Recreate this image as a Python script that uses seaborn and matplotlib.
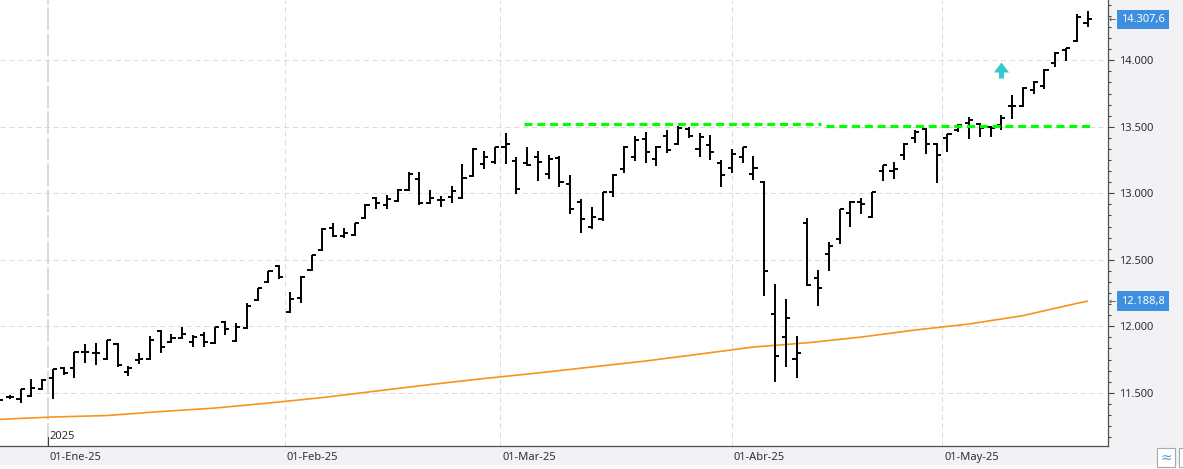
import numpy as np
import pandas as pd
import matplotlib
matplotlib.use("Agg")
import matplotlib.pyplot as plt
import matplotlib.transforms as mtrans
from matplotlib.ticker import MultipleLocator, FuncFormatter
from matplotlib.path import Path
from matplotlib.patches import Rectangle
import seaborn as sns

# trading days (BME calendar)
holidays = ["2024-12-25", "2024-12-26", "2025-01-01", "2025-04-18", "2025-04-21", "2025-05-01"]
dates = pd.bdate_range("2024-12-23", "2025-05-21")
dates = dates[~dates.isin(pd.to_datetime(holidays))]

opens = [11446, 11468, 11453, 11476, 11528,
         11611, 11686, 11686, 11806, 11799, 11754, 11867, 11656, 11746, 11754, 11964,
         11882, 11912, 11882, 11934, 11874, 12032, 11889, 11987, 12198, 12333, 12453,
         12107, 12213, 12423, 12574, 12739, 12679, 12686, 12814, 12964, 12912, 12942,
         13025, 13107, 12927, 12950, 12972, 12964, 13130, 13220, 13235,
         13348, 13243, 13228, 13273, 13145, 13265, 13070, 12934, 12746, 12807, 13010,
         13183, 13273, 13408, 13258, 13431, 13371, 13483, 13333, 13363, 13228,
         13190, 13273, 13145, 13085, 12092, 11919, 11754, 12776, 12363, 12543, 12656,
         12852, 12934, 12822, 13168, 13168, 13288, 13416, 13483, 13371,
         13416, 13476, 13529, 13521, 13498, 13513, 13656, 13656, 13777, 13807, 13980,
         14077, 14145, 14281]
highs = [11461, 11483, 11528, 11603, 11603,
         11679, 11694, 11806, 11867, 11874, 11897, 11874, 11701, 11799, 11927, 11972,
         11942, 11994, 11934, 11957, 11994, 12040, 12025, 12175, 12288, 12416, 12461,
         12258, 12378, 12536, 12739, 12776, 12739, 12776, 12919, 12972, 12987, 13032,
         13160, 13160, 13025, 12980, 13055, 13220, 13341, 13318, 13348,
         13453, 13273, 13348, 13318, 13288, 13280, 13138, 12957, 12897, 13010, 13145,
         13356, 13431, 13461, 13356, 13476, 13506, 13498, 13453, 13438, 13250,
         13333, 13348, 13280, 13090, 12318, 12205, 11927, 12814, 12423, 12634, 12882,
         12942, 12964, 13010, 13213, 13235, 13378, 13476, 13491, 13376,
         13446, 13521, 13574, 13529, 13506, 13589, 13739, 13799, 13844, 13935, 14062,
         14093, 14348, 14371]
lows = [11431, 11453, 11423, 11468, 11521,
        11453, 11633, 11611, 11724, 11709, 11746, 11694, 11626, 11716, 11746, 11799,
        11874, 11904, 11844, 11844, 11867, 11934, 11882, 11979, 12190, 12325, 12355,
        12100, 12175, 12416, 12566, 12671, 12664, 12680, 12807, 12882, 12882, 12934,
        13017, 12912, 12920, 12897, 12927, 12957, 13122, 13183, 13220,
        13220, 12995, 13205, 13092, 13107, 13047, 12844, 12701, 12731, 12792, 12972,
        13153, 13243, 13228, 13205, 13303, 13365, 13416, 13273, 13250, 13047,
        13153, 13228, 13100, 12228, 11581, 11694, 11611, 12303, 12152, 12416, 12619,
        12746, 12844, 12814, 13092, 13107, 13250, 13378, 13295, 13077,
        13310, 13461, 13408, 13423, 13423, 13476, 13559, 13650, 13747, 13784, 13950,
        13995, 14140, 14250]
closes = [11446, 11468, 11528, 11536, 11596,
          11679, 11648, 11806, 11806, 11799, 11897, 11709, 11686, 11754, 11897, 11844,
          11912, 11942, 11919, 11882, 11994, 11979, 11994, 12152, 12288, 12416, 12371,
          12205, 12371, 12536, 12731, 12679, 12701, 12776, 12912, 12927, 12957, 13025,
          13145, 12927, 12964, 12950, 13017, 13115, 13333, 13273, 13348,
          13371, 13032, 13213, 13235, 13258, 13085, 12882, 12807, 12822, 13010, 13138,
          13348, 13401, 13310, 13348, 13325, 13491, 13431, 13423, 13310, 13138,
          13295, 13348, 13190, 12416, 11776, 12062, 11799, 12310, 12288, 12604, 12882,
          12934, 12919, 13010, 13213, 13183, 13371, 13461, 13371, 13288,
          13446, 13513, 13551, 13491, 13491, 13566, 13656, 13792, 13837, 13927, 14055,
          14093, 14326, 14307.6]

# moving average read every 5 sessions
ma_idx = [0, 5, 10, 15, 20, 25, 30, 35, 40, 45, 50, 55, 60, 65, 70, 75, 80, 85, 90, 95, 100, 101]
ma_vals = [11300, 11318, 11329, 11359, 11385, 11423, 11464, 11513, 11562, 11607, 11649,
           11694, 11739, 11791, 11844, 11876, 11919, 11972, 12017, 12080, 12172, 12188.8]

# resistance segments (start, end, level)
resistance = [("2025-03-05", "2025-04-11", 13521), ("2025-04-14", "2025-05-21", 13508)]

signal_date = "2025-05-09"
signal_level = 13912

month_starts = ["2025-01-01", "2025-02-01", "2025-03-01", "2025-04-01", "2025-05-01"]
month_labels = ["01-Ene-25", "01-Feb-25", "01-Mar-25", "01-Abr-25", "01-May-25"]


def pos(d):
    d = pd.Timestamp(d)
    i = dates.searchsorted(d)
    if i < len(dates) and dates[i] == d:
        return float(i)
    return i - 0.5


def fmt_es(v, dec=0):
    s = f"{v:,.{dec}f}"
    return s.replace(",", "X").replace(".", ",").replace("X", ".")


sns.set_style("white")
plt.rcParams["font.family"] = ["Noto Sans", "DejaVu Sans"]

W, H = 1183, 469
fig = plt.figure(figsize=(W / 100, H / 100), dpi=100, facecolor="#f2f2f4")
ax = fig.add_axes([0, 23 / H, 1108 / W, 446 / H])
ax.set_facecolor("white")

x = np.arange(len(dates))

# grid
for v in range(11500, 14001, 500):
    ax.axhline(v, color="#dcdcdc", lw=0.75, ls=(0, (5, 3.5)), zorder=0)
for m in month_starts:
    p = pos(m)
    if m.endswith("01-01"):
        ax.axvline(p, color="#d2d2d2", lw=1.1, ls=(0, (15, 2)), zorder=0)
    else:
        ax.axvline(p, color="#dcdcdc", lw=0.75, ls=(0, (5, 3.5)), zorder=0)

# moving average
sns.lineplot(x=ma_idx, y=ma_vals, ax=ax, color="#f7941d", lw=1.2, zorder=2)

# OHLC bars
ax.vlines(x, lows, highs, color="black", lw=1.4, zorder=3)
ax.hlines(opens, x - 0.38, x, color="black", lw=1.4, zorder=3)
ax.hlines(closes, x, x + 0.38, color="black", lw=1.4, zorder=3)

# resistance lines
for s, e, lvl in resistance:
    ax.hlines(lvl, pos(s) - 0.3, pos(e) + 0.3, colors="#00ff00", lw=2.3,
              linestyles=(0, (2.5, 1.5)), zorder=4)

# signal arrow
arrow = Path([(0, 1.33), (1, 0), (0.33, 0), (0.33, -0.8), (-0.33, -0.8), (-0.33, 0), (-1, 0), (0, 1.33)],
             [Path.MOVETO] + [Path.LINETO] * 6 + [Path.CLOSEPOLY])
ax.plot([pos(signal_date)], [signal_level], marker=arrow, ms=14.5, color="#35c8cc", mec="none", zorder=5)

ax.set_xlim(0.09, 102.9)
ax.set_ylim(11100, 14453)

# y axis on right
ax.yaxis.tick_right()
ax.yaxis.set_major_locator(MultipleLocator(500))
ax.yaxis.set_minor_locator(MultipleLocator(500 / 6))
ax.yaxis.set_major_formatter(FuncFormatter(lambda v, _: fmt_es(v)))
ax.tick_params(axis="y", which="major", direction="out", length=4.3, width=0.8, color="#404040",
               pad=3.5, labelsize=8, labelcolor="#2e2e3e")
ax.tick_params(axis="y", which="minor", direction="out", length=2.4, width=0.8, color="#404040")

# x axis months
ax.set_xticks([pos(m) for m in month_starts])
ax.set_xticklabels(month_labels, ha="left")
ax.tick_params(axis="x", direction="out", length=6.5, width=0.8, color="#404040",
               pad=-2.5, labelsize=8, labelcolor="#2e2e3e")
off = mtrans.ScaledTranslation(2 / 100, 0, fig.dpi_scale_trans)
for lab in ax.get_xticklabels():
    lab.set_transform(lab.get_transform() + off)

# year marker
ax.axvline(pos(month_starts[0]), ymin=0, ymax=9 / 446, color="#404040", lw=0.8, zorder=5)
ax.text(pos(month_starts[0]), 0.01, "2025", transform=ax.get_xaxis_transform(),
        fontsize=8, color="#2e2e3e", ha="left", va="bottom")
ax.texts[-1].set_transform(ax.get_xaxis_transform() + off)

for side in ["top", "left"]:
    ax.spines[side].set_visible(False)
for side in ["right", "bottom"]:
    ax.spines[side].set_color("#505050")
    ax.spines[side].set_linewidth(0.9)

# value badges
for val, txt in [(closes[-1], fmt_es(closes[-1], 1)), (ma_vals[-1], fmt_es(ma_vals[-1], 1))]:
    ax.annotate("←", xy=(1, val), xycoords=("axes fraction", "data"), xytext=(1, 0),
                textcoords="offset pixels", ha="left", va="center", fontsize=6.5,
                color="#505050", annotation_clip=False)
    ax.annotate(txt, xy=(1, val), xycoords=("axes fraction", "data"), xytext=(13, 0),
                textcoords="offset pixels", ha="left", va="center", fontsize=8, color="white",
                bbox=dict(boxstyle="square,pad=0.38", fc="#3f8fe0", ec="none"),
                annotation_clip=False)

# bottom strip details
fig.patches.append(Rectangle((0, 0), 1, 4 / H, transform=fig.transFigure, fc="#fbfbfb", ec="none"))
fig.patches.append(Rectangle((1157 / W, 2 / H), 18 / W, 19 / H, transform=fig.transFigure,
                             fc="white", ec="#a8a8a8", lw=0.8))
fig.patches.append(Rectangle((1179 / W, 2 / H), 10 / W, 19 / H, transform=fig.transFigure,
                             fc="white", ec="#a8a8a8", lw=0.8))
fig.text(1166 / W, 11.5 / H, "≈", ha="center", va="center", fontsize=10, color="#5b9bd5",
         family="DejaVu Sans")

fig.savefig("out.png", dpi=100, facecolor=fig.get_facecolor())
